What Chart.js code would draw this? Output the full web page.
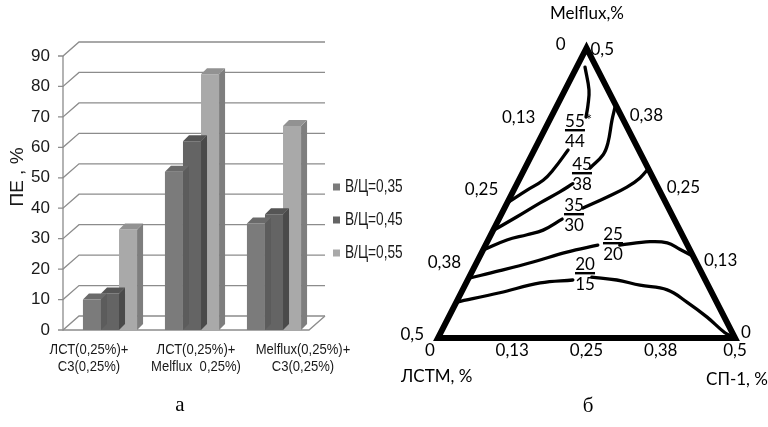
<!DOCTYPE html>
<html>
<head>
<meta charset="utf-8">
<script src="https://cdn.jsdelivr.net/npm/chart.js@4.4.1/dist/chart.umd.min.js"></script>
<style>
body{margin:0;background:#fff;width:768px;height:427px;overflow:hidden;position:relative}
#barras{position:absolute;left:0;top:0}
#tern{position:absolute;left:400px;top:0}
</style>
</head>
<body>
<canvas id="barras" width="420" height="427"></canvas>
<canvas id="tern" width="368" height="427"></canvas>
<script>
// --- datos grafico a ---
const categorias=[['ЛСТ(0,25%)+','С3(0,25%)'],['ЛСТ(0,25%)+','Melflux  0,25%)'],['Melflux(0,25%)+','С3(0,25%)']]
const series=['В/Ц=0,35','В/Ц=0,45','В/Ц=0,55']
const pe035=[10,52,35]
const pe045=[12,62,38]
const pe055=[33,84,67]
const ticksY=[0,10,20,30,40,50,60,70,80,90]

// --- datos grafico b (triangulo) ---
const escalaTern=['0','0,13','0,25','0,38','0,5']
const trianguloX=[0,0.5,0.25,0,0.5]
const trianguloY=[0,0,0.5,0,0]
const iso55=[[0.2475,0.467],[0.2542,0.4276],[0.2525,0.4017],[0.2492,0.381]]
const iso45=[[0.298,0.398],[0.293,0.376],[0.286,0.336],[0.278,0.316],[0.256,0.293]]
const iso44=[[0.118,0.234],[0.150,0.255],[0.177,0.272],[0.194,0.290],[0.219,0.324]]
const iso38=[[0.094,0.186],[0.133,0.209],[0.172,0.233],[0.205,0.252],[0.227,0.266]]
const iso35=[[0.355,0.293],[0.340,0.276],[0.318,0.260],[0.285,0.243],[0.244,0.224]]
const iso30=[[0.077,0.152],[0.116,0.169],[0.150,0.178],[0.177,0.186],[0.209,0.205]]
const iso25izq=[[0.052,0.103],[0.104,0.116],[0.160,0.131],[0.217,0.148],[0.269,0.160]]
const iso25der=[[0.306,0.160],[0.357,0.166],[0.386,0.164],[0.407,0.153],[0.431,0.140]]
const iso20izq=[[0.032,0.062],[0.104,0.078],[0.172,0.095],[0.227,0.100]]
const iso20der=[[0.259,0.105],[0.301,0.100],[0.340,0.091],[0.386,0.083],[0.419,0.062],[0.453,0.036],[0.483,0.009],[0.497,0.002]]
const etiquetasIso=[['55','44'],['45','38'],['35','30'],['25','20'],['20','15']]

const colores=['#7b7b7b','#646464','#a9a9a9']
const lados=['#5c5c5c','#4a4a4a','#7e7e7e']
const techos=['#6a6a6a','#555555','#929292']
const fuenteSans='"Liberation Sans",Arial,sans-serif'
const fuenteTern='Lato,"Open Sans",sans-serif'

const prof={dx:6,dy:-6}
const pared={dx:16,dy:-14}

// texto comprimido en horizontal (la fuente original es angosta)
function textoAngosto(ctx,texto,x,y,escala){
    ctx.save()
    ctx.translate(x,y)
    ctx.scale(escala,1)
    ctx.fillText(texto,0,0)
    ctx.restore()
}

const barras3d={
    id:'barras3d',
    beforeDatasetsDraw(chart){
        const {ctx,chartArea:a,scales:{y}}=chart
        const x0=a.left-6
        const xFin=a.right+10
        ctx.save()
        ctx.strokeStyle='#8c8c8c'
        ctx.lineWidth=1.3
        ticksY.forEach(v=>{
            const yy=y.getPixelForValue(v)
            ctx.beginPath()
            ctx.moveTo(x0-5,yy)
            ctx.lineTo(x0,yy)
            ctx.lineTo(x0+pared.dx,yy+pared.dy)
            ctx.lineTo(xFin,yy+pared.dy)
            ctx.stroke()
        })
        const y0=y.getPixelForValue(0)
        ctx.beginPath()
        ctx.moveTo(x0,y.getPixelForValue(90))
        ctx.lineTo(x0,y0)
        ctx.lineTo(xFin-pared.dx,y0)
        ctx.lineTo(xFin,y0+pared.dy)
        ctx.stroke()
        ctx.restore()
    },
    afterDatasetDraw(chart,args){
        const ctx=chart.ctx
        const i=args.index
        ctx.save()
        args.meta.data.forEach(bar=>{
            const {x,y,base,width}=bar.getProps(['x','y','base','width'],true)
            const l=x-width/2, r=x+width/2
            ctx.fillStyle=lados[i]
            ctx.beginPath()
            ctx.moveTo(r,y);ctx.lineTo(r+prof.dx,y+prof.dy);ctx.lineTo(r+prof.dx,base+prof.dy);ctx.lineTo(r,base)
            ctx.closePath();ctx.fill()
            ctx.fillStyle=techos[i]
            ctx.beginPath()
            ctx.moveTo(l,y);ctx.lineTo(r,y);ctx.lineTo(r+prof.dx,y+prof.dy);ctx.lineTo(l+prof.dx,y+prof.dy)
            ctx.closePath();ctx.fill()
        })
        ctx.restore()
    },
    afterDraw(chart){
        const {ctx,chartArea:a}=chart
        ctx.save()
        ctx.fillStyle='#1a1a1a'
        // titulo eje y
        ctx.save()
        ctx.translate(18,177)
        ctx.rotate(-Math.PI/2)
        ctx.font='19px '+fuenteSans
        ctx.textAlign='center'
        ctx.textBaseline='middle'
        ctx.fillText('ПЕ , %',0,0)
        ctx.restore()
        // leyenda
        ctx.font='18px '+fuenteSans
        ctx.textAlign='left'
        ctx.textBaseline='middle'
        series.forEach((s,i)=>{
            const yy=187+i*33
            ctx.fillStyle=colores[i]
            ctx.fillRect(333,yy-3.5,7,7)
            ctx.fillStyle='#1a1a1a'
            textoAngosto(ctx,s,345,yy,0.76)
        })
        // categorias
        ctx.font='15px '+fuenteSans
        ctx.textAlign='center'
        const centro=(a.left+a.right)/2+4
        categorias.forEach((c,i)=>{
            c.forEach((linea,j)=>textoAngosto(ctx,linea,centro+(i-1)*107,350+j*17,0.87))
        })
        ctx.font='21px "Liberation Serif","Times New Roman",serif'
        ctx.fillStyle='#000'
        ctx.fillText('а',180,405)
        ctx.restore()
    }
}

new Chart(document.getElementById('barras'),{
    type:'bar',
    data:{
        labels:categorias,
        datasets:[pe035,pe045,pe055].map((d,i)=>({
            label:series[i],
            data:d,
            backgroundColor:colores[i],
            borderWidth:0,
            barPercentage:1,
            categoryPercentage:0.66
        }))
    },
    options:{
        responsive:false,
        animation:false,
        layout:{padding:{left:0,right:105,top:56,bottom:97}},
        plugins:{legend:{display:false},tooltip:{enabled:false}},
        scales:{
            x:{display:false},
            y:{
                min:0,max:90,
                grid:{display:false,drawTicks:false},
                border:{display:false},
                afterBuildTicks:s=>{s.ticks=ticksY.map(v=>({value:v}))},
                afterFit:s=>{s.width=69},
                ticks:{padding:19,color:'#1a1a1a',font:{family:'"Liberation Sans",Arial,sans-serif',size:17}}
            }
        }
    },
    plugins:[barras3d]
})

// --- grafico b ---
const textosTern={
    id:'textosTern',
    afterDraw(chart){
        const {ctx,scales:{x,y}}=chart
        const p=(a,b)=>[x.getPixelForValue(a),y.getPixelForValue(b)]
        const fuente='17px '+fuenteTern
        ctx.save()
        ctx.fillStyle='#000'
        ctx.font=fuente
        ctx.textBaseline='middle'
        // base
        ctx.textAlign='center'
        escalaTern.forEach((t,i)=>{
            const [px,py]=p(i*0.125,0)
            ctx.fillText(t,px+(i===0?-8:0),py+13)
        })
        // lado izquierdo
        ctx.textAlign='right'
        escalaTern.forEach((t,i)=>{
            const f=i/4
            const [px,py]=p(0.25-0.25*f,0.5-0.5*f)
            ctx.fillText(t,px-(i===0?21:14),py-3)
        })
        // lado derecho
        ctx.textAlign='left'
        escalaTern.slice().reverse().forEach((t,i)=>{
            const f=i/4
            const [px,py]=p(0.25+0.25*f,0.5-0.5*f)
            ctx.fillText(t,px+(i===0?4:6),py+(i===0?2:-5))
        })
        // nombres de ejes
        ctx.textAlign='center'
        ctx.fillText('Melflux,%',187,14)
        ctx.fillText('СП-1, %',337,380)
        ctx.textAlign='left'
        ctx.fillText('ЛСТМ, %',1,377)
        ctx.textAlign='center'
        // etiquetas de isolineas
        const anclas=[[0.2306,0.3586],[0.2424,0.2845],[0.229,0.2138],[0.2946,0.1638],[0.2475,0.1121]]
        ctx.textBaseline='alphabetic'
        etiquetasIso.forEach((e,i)=>{
            const [px,py]=p(anclas[i][0],anclas[i][1])
            ctx.fillText(e[0],px,py-3)
            ctx.fillRect(px-10,py-1,20,2.4)
            ctx.fillText(e[1],px,py+17)
            if(i===0){
                ctx.font='15px '+fuenteTern
                ctx.fillText('*',px+14,py-5)
                ctx.font=fuente
            }
        })
        ctx.font='21px "Liberation Serif","Times New Roman",serif'
        ctx.textBaseline='middle'
        ctx.fillText('б',188,406)
        ctx.restore()
    }
}

const isolineas=[iso55,iso45,iso44,iso38,iso35,iso30,iso25izq,iso25der,iso20izq,iso20der]

new Chart(document.getElementById('tern'),{
    type:'scatter',
    data:{
        datasets:[{
            data:trianguloX.map((v,i)=>({x:v,y:trianguloY[i]})),
            showLine:true,
            borderColor:'#000',
            borderWidth:6,
            borderJoinStyle:'miter',
            pointRadius:0,
            tension:0,
            clip:false
        }].concat(isolineas.map(c=>({
            data:c.map(([a,b])=>({x:a,y:b})),
            showLine:true,
            borderColor:'#000',
            borderWidth:3.3,
            borderCapStyle:'round',
            pointRadius:0,
            tension:0.4,
            clip:false
        })))
    },
    options:{
        responsive:false,
        animation:false,
        layout:{padding:{left:38,right:33,top:48,bottom:89}},
        plugins:{legend:{display:false},tooltip:{enabled:false}},
        scales:{
            x:{type:'linear',min:0,max:0.5,display:false},
            y:{type:'linear',min:0,max:0.5,display:false}
        }
    },
    plugins:[textosTern]
})
</script>
</body>
</html>
